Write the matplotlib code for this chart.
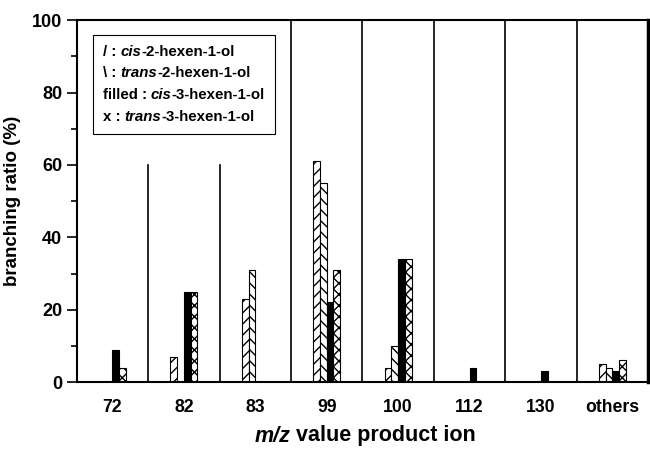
import numpy as np
import matplotlib.pyplot as plt
from matplotlib.offsetbox import TextArea, HPacker, VPacker, AnchoredOffsetbox

# categorias m/z y razones de ramificacion (%)
categories = ['72', '82', '83', '99', '100', '112', '130', 'others']
cis2 = [0, 7, 23, 61, 4, 0, 0, 5]
trans2 = [0, 0, 31, 55, 10, 0, 0, 4]
cis3 = [9, 25, 0, 22, 34, 4, 3, 3]
trans3 = [4, 25, 0, 31, 34, 0, 0, 6]

plt.rcParams['font.family'] = 'Liberation Sans'
plt.rcParams['font.weight'] = 'bold'
plt.rcParams['hatch.linewidth'] = 1.0

fig = plt.figure(figsize=(6.5, 4.49), dpi=100)
ax = fig.add_axes([0.118, 0.149, 0.879, 0.806])

x = np.arange(len(categories))
w = 0.094
series = [
    (cis2, -2 * w, 'white', '///'),
    (trans2, -w, 'white', '\\\\\\'),
    (cis3, 0, 'black', None),
    (trans3, w, 'white', 'xxx'),
]
for vals, off, fc, hatch in series:
    ax.bar(x + off, vals, width=w, align='edge', facecolor=fc,
           edgecolor='black', linewidth=0.8, hatch=hatch)

# lineas separadoras
for i in range(len(categories) - 1):
    top = 60 if i < 2 else 100
    ax.plot([i + 0.5, i + 0.5], [0, top], color='black', lw=1.2)

ax.set_xlim(-0.5, len(categories) - 0.5)
ax.set_ylim(0, 100)
ax.set_xticks(x)
ax.set_xticklabels(categories, fontsize=12.7, fontweight='bold')
ax.tick_params(axis='x', length=0, pad=12)
ax.set_yticks(np.arange(0, 101, 20))
ax.set_yticks(np.arange(10, 100, 20), minor=True)
ax.tick_params(axis='y', which='major', length=7, width=1.2, labelsize=13)
ax.tick_params(axis='y', which='minor', length=4, width=1.2)
for lbl in ax.get_yticklabels():
    lbl.set_fontweight('bold')
for sp in ax.spines.values():
    sp.set_linewidth(1.5)
ax.spines['right'].set_linewidth(2.5)

ax.set_ylabel('branching ratio (%)', fontsize=13.5, fontweight='bold', labelpad=8)

# etiqueta x con m/z en cursiva
xl = HPacker(children=[
    TextArea('m/z', textprops=dict(fontsize=15.5, fontweight='bold', style='italic')),
    TextArea(' value product ion', textprops=dict(fontsize=15.5, fontweight='bold')),
], pad=0, sep=0)
xla = AnchoredOffsetbox(loc='center', child=xl, pad=0, borderpad=0, frameon=False,
                        bbox_to_anchor=(365 / 650, 1 - 436 / 449),
                        bbox_transform=fig.transFigure)
fig.add_artist(xla)

# leyenda manual con cursivas
rows = [
    ('/ : ', 'cis', '-2-hexen-1-ol'),
    ('\\ : ', 'trans', '-2-hexen-1-ol'),
    ('filled : ', 'cis', '-3-hexen-1-ol'),
    ('x : ', 'trans', '-3-hexen-1-ol'),
]
fs = 10.8
lines = []
for a, b, c in rows:
    lines.append(HPacker(children=[
        TextArea(a, textprops=dict(fontsize=fs, fontweight='bold')),
        TextArea(b, textprops=dict(fontsize=fs, fontweight='bold', style='italic')),
        TextArea(c, textprops=dict(fontsize=fs, fontweight='bold')),
    ], pad=0, sep=0))
box = VPacker(children=lines, pad=0, sep=5.5, align='left')
anch = AnchoredOffsetbox(loc='upper left', child=box, pad=0.72, borderpad=0,
                         frameon=True, bbox_to_anchor=(0.028, 0.96),
                         bbox_transform=ax.transAxes)
anch.patch.set_edgecolor('black')
anch.patch.set_linewidth(0.8)
anch.patch.set_boxstyle('square', pad=0)
ax.add_artist(anch)

fig.savefig('out.png', dpi=100)
